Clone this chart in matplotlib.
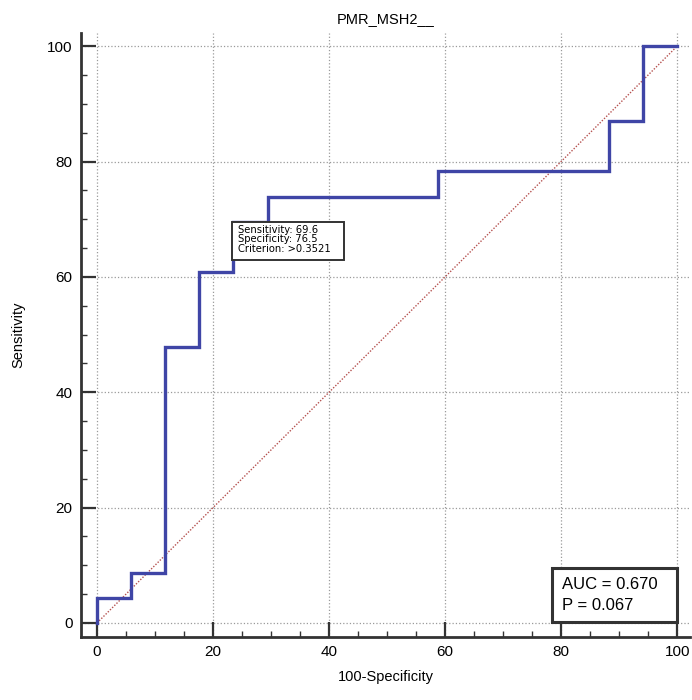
import matplotlib.pyplot as plt
from matplotlib.patches import Rectangle
import numpy as np

plt.rcParams['font.family'] = ['Liberation Sans', 'DejaVu Sans']

# ROC step points (100-Specificity, Sensitivity)
fpr = [0, 0, 5.9, 5.9, 11.8, 11.8, 17.6, 17.6, 23.5, 23.5, 29.4, 29.4,
       58.8, 58.8, 88.2, 88.2, 94.1, 94.1, 100]
tpr = [0, 4.3, 4.3, 8.7, 8.7, 47.8, 47.8, 60.9, 60.9, 69.6, 69.6, 73.9,
       73.9, 78.3, 78.3, 87.0, 87.0, 100, 100]

crit_x, crit_y = 23.5, 69.6
crit_lines = ["Sensitivity: 69.6", "Specificity: 76.5", "Criterion: >0.3521"]
auc_lines = ["AUC = 0.670", "P = 0.067"]

ticks = [0, 20, 40, 60, 80, 100]

fig = plt.figure(figsize=(6.92, 7.0), dpi=100)
ax = fig.add_axes([0.117, 0.09, 0.88, 0.863])

ax.plot([0, 100], [0, 100], ls=(0, (1, 1.2)), c='#b5514f', lw=1.0, zorder=2)
ax.plot(fpr, tpr, c='#3f45a6', lw=2.4, zorder=3, solid_joinstyle='miter')

ax.set_xlim(-2.76, 102.2)
ax.set_ylim(-2.43, 102.3)
ax.set_xticks(ticks)
ax.set_yticks(ticks)
ax.set_xticks(np.arange(0, 101, 5), minor=True)
ax.set_yticks(np.arange(0, 101, 5), minor=True)
ax.grid(True, which='major', ls=':', c='#9a9a9a', lw=0.9)
ax.tick_params(which='major', direction='in', length=11, width=1.6,
               color='#333333', labelsize=11, pad=6)
ax.tick_params(which='minor', direction='in', length=4.5, width=1.0,
               color='#333333')
for s in ['top', 'right']:
    ax.spines[s].set_visible(False)
for s in ['left', 'bottom']:
    ax.spines[s].set_linewidth(2.0)
    ax.spines[s].set_color('#333333')

ax.set_title("PMR_MSH2__", fontsize=10.5, pad=7)
ax.set_xlabel("100-Specificity", fontsize=10.5, labelpad=8)
ax.set_ylabel("Sensitivity", fontsize=10.5, labelpad=16)

# criterion box, top-left corner at the criterion point
ax.add_patch(Rectangle((crit_x - 0.2, crit_y - 6.6), 19.3, 6.6, fc='white',
                       ec='#333333', lw=1.4, zorder=4))
ax.text(crit_x + 0.8, crit_y - 0.6, "\n".join(crit_lines), fontsize=7.2,
        family='DejaVu Sans', ha='left', va='top', linespacing=0.92,
        zorder=5)

# AUC box
ax.add_patch(Rectangle((78.4, 0.2), 21.6, 9.4, fc='white', ec='#333333',
                       lw=2.2, zorder=4))
ax.text(80.2, 4.85, "\n".join(auc_lines), fontsize=12, ha='left',
        va='center', linespacing=1.55, zorder=5)

fig.savefig("out.png", dpi=100)
